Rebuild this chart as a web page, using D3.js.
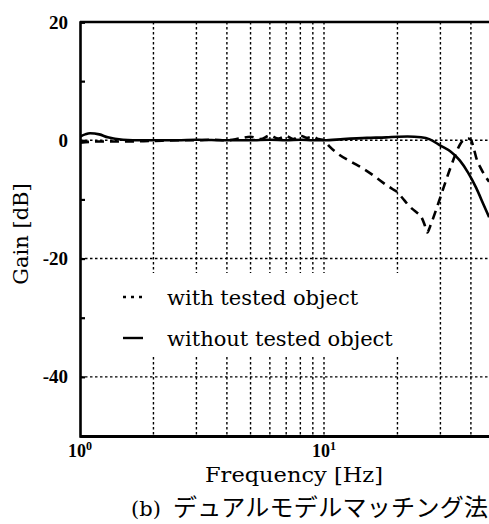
<!DOCTYPE html>
<html>
<head>
<meta charset="utf-8">
<script src="https://cdn.jsdelivr.net/npm/d3@7"></script>
<style>
  html, body { margin: 0; padding: 0; background: #fff; }
  svg { display: block; }
</style>
</head>
<body>
<svg id="chart" width="489" height="524"></svg>
<script>
// ---- data ----
const solidFreq = [1, 1.05, 1.1, 1.2, 1.3, 1.5, 1.8, 2, 2.5, 3, 4, 5, 6, 7, 8, 9, 10, 12, 15, 18, 20, 22, 25, 27, 30, 33, 36, 39, 42, 45, 47.5];
const solidGain = [0.6, 1.0, 1.2, 1.0, 0.5, 0.1, 0, 0, 0, 0.1, 0, 0, 0.1, 0, 0.1, 0, 0, 0.2, 0.4, 0.5, 0.6, 0.65, 0.5, 0.2, -0.9, -1.9, -3.4, -5.5, -8.0, -10.8, -13.0];

const dashFreq = [1, 1.2, 1.5, 2, 2.5, 3, 3.5, 4, 4.5, 5, 5.5, 6, 6.5, 7, 7.5, 8, 8.5, 9, 9.5, 10, 10.5, 11.5, 13, 14.5, 16, 17.5, 19, 20, 21, 22, 23, 24, 25, 25.8, 26.5, 27.2, 28, 29, 30, 31.5, 33, 34.5, 36, 37.5, 39, 40, 41, 42.1, 44, 47.5];
const dashGain = [-0.4, -0.2, -0.2, -0.1, 0, 0, 0.1, 0, 0.3, 0.6, 0.2, 0.8, 0.3, 0.7, 0.2, 0.8, 0.4, 0.6, 0.2, 0, -1.0, -2.4, -3.7, -4.8, -6.0, -7.2, -8.2, -8.8, -9.8, -10.8, -11.6, -12.2, -12.9, -14.2, -15.6, -14.6, -13.2, -11.4, -9.6, -7.0, -4.6, -2.5, -0.8, 0.1, 0.3, 0.1, -1.2, -3.0, -4.8, -7.0];

const yTickValues = [-50, -40, -30, -20, -10, 0, 10, 20];
const yLabelValues = [-40, -20, 0, 20];
const yGridValues = [-40, -20, 0];
const xGridValues = [2, 3, 4, 5, 6, 7, 8, 9, 10, 20, 30, 40];
const xLabelValues = [1, 10];

const legendLabels = ["with tested object", "without tested object"];
const xTitle = "Frequency [Hz]";
const yTitle = "Gain [dB]";
const captionPrefix = "(b)";
const captionText = "デュアルモデルマッチング法";

// ---- layout ----
const svg = d3.select("#chart");
const mLeft = 80, mRight = 489, mTop = 22, mBottom = 436;

const x = d3.scaleLog().domain([1, Math.pow(10, (mRight - mLeft) / 244)]).range([mLeft, mRight]);
const y = d3.scaleLinear().domain([-50, 20]).range([mBottom, mTop]);

const serif = "'DejaVu Serif', serif";
const tickFont = "'Liberation Serif', 'Times New Roman', serif";

svg.append("defs").append("clipPath").attr("id", "clip")
  .append("rect").attr("x", mLeft).attr("y", mTop).attr("width", mRight - mLeft + 5).attr("height", mBottom - mTop);

// grid
const grid = svg.append("g");
grid.selectAll("line.v").data(xGridValues).join("line").attr("class", "v")
  .attr("x1", d => x(d)).attr("x2", d => x(d))
  .attr("y1", mTop).attr("y2", mBottom)
  .attr("stroke", "#000").attr("stroke-width", 1.4).attr("stroke-dasharray", "2.5,2.5");
grid.selectAll("line.h").data(yGridValues).join("line").attr("class", "h")
  .attr("x1", mLeft).attr("x2", mRight)
  .attr("y1", d => y(d)).attr("y2", d => y(d))
  .attr("stroke", "#000").attr("stroke-width", 1.4).attr("stroke-dasharray", "2.5,2.5");

// legend background (hides grid)
svg.append("rect").attr("x", mLeft + 2).attr("y", 273).attr("width", 340).attr("height", 83).attr("fill", "#fff");

// curves
const line = d3.line().x(d => x(d[0])).y(d => y(d[1])).curve(d3.curveMonotoneX);
const plot = svg.append("g").attr("clip-path", "url(#clip)");
plot.append("path").datum(d3.zip(solidFreq, solidGain))
  .attr("d", line).attr("fill", "none").attr("stroke", "#000").attr("stroke-width", 2.6);
plot.append("path").datum(d3.zip(dashFreq, dashGain))
  .attr("d", line).attr("fill", "none").attr("stroke", "#000").attr("stroke-width", 2.6)
  .attr("stroke-dasharray", "9,6");

// axes
const yAxis = d3.axisLeft(y).tickValues(yTickValues).tickSize(-5).tickPadding(12)
  .tickFormat(d => yLabelValues.includes(d) ? String(d) : "");
const ya = svg.append("g").attr("transform", `translate(${mLeft},0)`).call(yAxis);
ya.select(".domain").attr("stroke-width", 2.6).attr("stroke", "#000");
ya.selectAll(".tick line").attr("stroke-width", 2.2);
ya.selectAll(".tick text").attr("font-family", tickFont).attr("font-weight", "bold")
  .attr("font-size", 19).attr("fill", "#000");

const xAxis = d3.axisBottom(x).tickValues(xLabelValues).tickSize(0).tickFormat(() => "");
const xa = svg.append("g").attr("transform", `translate(0,${mBottom})`).call(xAxis);
xa.select(".domain").attr("stroke-width", 2.8).attr("stroke", "#000");

// top frame
svg.append("line").attr("x1", mLeft).attr("x2", mRight).attr("y1", mTop).attr("y2", mTop)
  .attr("stroke", "#000").attr("stroke-width", 2.6);

// x tick labels 10^n
xLabelValues.forEach(v => {
  const t = svg.append("text").attr("x", x(v)).attr("y", 457).attr("text-anchor", "middle")
    .attr("font-family", tickFont).attr("font-weight", "bold").attr("font-size", 18).attr("fill", "#000");
  t.append("tspan").text("10");
  t.append("tspan").attr("dy", -7).attr("font-size", 12).text(String(Math.round(Math.log10(v))));
});

// axis titles
svg.append("text").attr("x", 294).attr("y", 482).attr("text-anchor", "middle")
  .attr("font-family", serif).attr("font-size", 21).attr("fill", "#000")
  .attr("textLength", 178).attr("lengthAdjust", "spacingAndGlyphs").text(xTitle);
svg.append("text").attr("transform", "translate(28,234) rotate(-90)").attr("text-anchor", "middle")
  .attr("font-family", serif).attr("font-size", 21).attr("fill", "#000").text(yTitle);

// legend
const lg = svg.append("g");
lg.append("line").attr("x1", 123).attr("x2", 143).attr("y1", 297).attr("y2", 297)
  .attr("stroke", "#000").attr("stroke-width", 2.4).attr("stroke-dasharray", "3,5");
lg.append("line").attr("x1", 123).attr("x2", 143).attr("y1", 338).attr("y2", 338)
  .attr("stroke", "#000").attr("stroke-width", 2.4);
lg.selectAll("text").data(legendLabels).join("text")
  .attr("x", 167).attr("y", (d, i) => 305 + i * 41)
  .attr("font-family", serif).attr("font-size", 21).attr("fill", "#000").text(d => d);

// caption
svg.append("text").attr("x", 131).attr("y", 516)
  .attr("font-family", serif).attr("font-size", 21).attr("fill", "#000").text(captionPrefix);
svg.append("text").attr("x", 173).attr("y", 516)
  .attr("font-family", "'Noto Sans CJK JP', sans-serif").attr("font-size", 24).attr("fill", "#000")
  .attr("textLength", 315).attr("lengthAdjust", "spacing").text(captionText);
</script>
</body>
</html>
